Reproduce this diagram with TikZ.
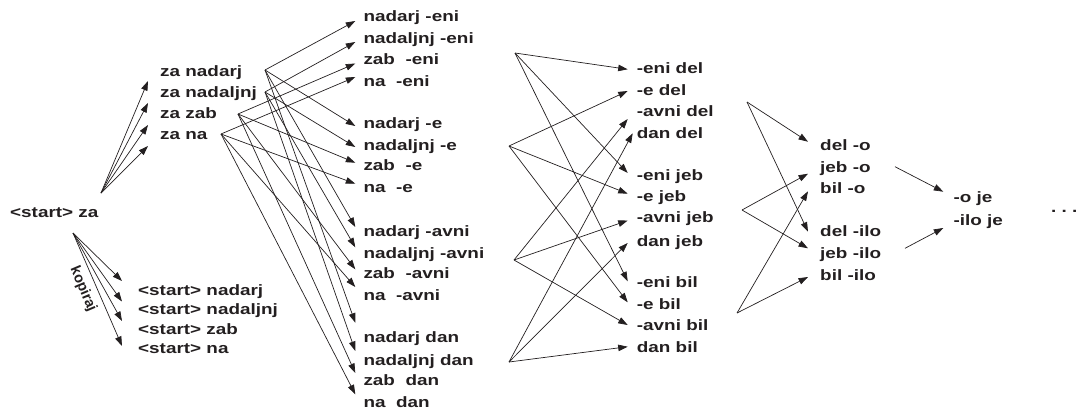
\documentclass[tikz,border=0pt]{standalone}
\usepackage{fontspec}
\usepackage{graphicx}
\setmainfont{Liberation Sans}
\usetikzlibrary{arrows.meta}
\definecolor{ink}{RGB}{35,31,32}
% labels are set wide, as in the printed figure
\newcommand{\wtxt}[1]{\scalebox{1.26}[1]{#1}}

\begin{document}
\begin{tikzpicture}[x=1pt,y=-1pt,
  lbl/.style={anchor=base west, inner sep=0pt, text=ink,
    font=\bfseries\fontsize{15}{17}\selectfont},
  arr/.style={draw=ink, line width=0.7pt,
    -{Triangle[length=9.5pt,width=6.5pt]}},
]
\useasboundingbox (0,0) rectangle (1076,413);

% ---- words -------------------------------------------------------
\node[lbl] (start) at (10,217) {\wtxt{<start> za}};

\node[lbl] (za-nadarj)   at (160,76)  {\wtxt{za nadarj}};
\node[lbl] (za-nadaljnj) at (160,97)  {\wtxt{za nadaljnj}};
\node[lbl] (za-zab)      at (160,118) {\wtxt{za zab}};
\node[lbl] (za-na)       at (160,139) {\wtxt{za na}};

\node[lbl] (s-nadarj)   at (138,295)   {\wtxt{<start> nadarj}};
\node[lbl] (s-nadaljnj) at (138,314.5) {\wtxt{<start> nadaljnj}};
\node[lbl] (s-zab)      at (138,334)   {\wtxt{<start> zab}};
\node[lbl] (s-na)       at (138,353)   {\wtxt{<start> na}};
\node[text=ink, inner sep=0pt, rotate=-67,
      font=\bfseries\fontsize{14.5}{16}\selectfont] (kop) at (83,289) {kopiraj};

% stems with their endings
\node[lbl] (nadarj-eni)   at (363.3,21)    {\wtxt{nadarj -eni}};
\node[lbl] (nadaljnj-eni) at (363.3,43)    {\wtxt{nadaljnj -eni}};
\node[lbl] (zab-eni)      at (363.3,64.5)  {\wtxt{zab~~-eni}};
\node[lbl] (na-eni)       at (363.3,86)    {\wtxt{na~~-eni}};
\node[lbl] (nadarj-e)     at (363.3,128)   {\wtxt{nadarj -e}};
\node[lbl] (nadaljnj-e)   at (363.3,150)   {\wtxt{nadaljnj -e}};
\node[lbl] (zab-e)        at (363.3,170.7) {\wtxt{zab~~-e}};
\node[lbl] (na-e)         at (363.3,192.7) {\wtxt{na~~-e}};
\node[lbl] (nadarj-avni)  at (363.3,236)   {\wtxt{nadarj -avni}};
\node[lbl] (nadaljnj-avni)at (363.3,258.3) {\wtxt{nadaljnj -avni}};
\node[lbl] (zab-avni)     at (363.3,278.3) {\wtxt{zab~~-avni}};
\node[lbl] (na-avni)      at (363.3,300)   {\wtxt{na~~-avni}};
\node[lbl] (nadarj-dan)   at (363.3,342.7) {\wtxt{nadarj dan}};
\node[lbl] (nadaljnj-dan) at (363.3,365)   {\wtxt{nadaljnj dan}};
\node[lbl] (zab-dan)      at (363.3,385)   {\wtxt{zab~~dan}};
\node[lbl] (na-dan)       at (363.3,407.3) {\wtxt{na~~dan}};

% endings with the next stem
\node[lbl] (eni-del)  at (636.7,73.3)  {\wtxt{-eni del}};
\node[lbl] (e-del)    at (636.7,95)    {\wtxt{-e del}};
\node[lbl] (avni-del) at (636.7,116)   {\wtxt{-avni del}};
\node[lbl] (dan-del)  at (636.7,138.3) {\wtxt{dan del}};
\node[lbl] (eni-jeb)  at (636.7,180)   {\wtxt{-eni jeb}};
\node[lbl] (e-jeb)    at (636.7,201.7) {\wtxt{-e jeb}};
\node[lbl] (avni-jeb) at (636.7,222.5) {\wtxt{-avni jeb}};
\node[lbl] (dan-jeb)  at (636.7,246)   {\wtxt{dan jeb}};
\node[lbl] (eni-bil)  at (636.7,287.3) {\wtxt{-eni bil}};
\node[lbl] (e-bil)    at (636.7,309.3) {\wtxt{-e bil}};
\node[lbl] (avni-bil) at (636.7,330)   {\wtxt{-avni bil}};
\node[lbl] (dan-bil)  at (636.7,352.7) {\wtxt{dan bil}};

\node[lbl] (del-o)   at (820,150.7) {\wtxt{del -o}};
\node[lbl] (jeb-o)   at (820,172.7) {\wtxt{jeb -o}};
\node[lbl] (bil-o)   at (820,193.3) {\wtxt{bil -o}};
\node[lbl] (del-ilo) at (820,236.7) {\wtxt{del -ilo}};
\node[lbl] (jeb-ilo) at (820,258.3) {\wtxt{jeb -ilo}};
\node[lbl] (bil-ilo) at (820,280)   {\wtxt{bil -ilo}};

\node[lbl] (o-je)   at (953.3,202.7) {\wtxt{-o je}};
\node[lbl] (ilo-je) at (953.3,225)   {\wtxt{-ilo je}};

\node[lbl] (more) at (1051,212) {\wtxt{.~.~.}};

% ---- fan-out points ----------------------------------------------
\coordinate (h-start) at (101,193);
\coordinate (h-kop)   at (73,233);

\coordinate (h-nadarj)   at (265,70);
\coordinate (h-nadaljnj) at (265,92);
\coordinate (h-zab)      at (238,114);
\coordinate (h-na)       at (221,134);

\coordinate (h-eni)  at (515,53);
\coordinate (h-e)    at (509,146);
\coordinate (h-avni) at (514,260);
\coordinate (h-dan)  at (509,362);

\coordinate (h-del) at (747,102);
\coordinate (h-jeb) at (742,210);
\coordinate (h-bil) at (737,313);

% ---- connectors --------------------------------------------------
\foreach \t/\d in {za-nadarj/5, za-nadaljnj/6, za-zab/7, za-na/7}
  \draw[arr] (h-start) -- ([shift={(-12,\d)}]\t.base west);

\foreach \t/\d in {s-nadarj/-14, s-nadaljnj/-13, s-zab/-13, s-na/-7}
  \draw[arr] (h-kop) -- ([shift={(-16,\d)}]\t.base west);

\foreach \s/\t/\d in {
    nadarj/nadarj-eni/0,     nadarj/nadarj-e/-2,
    nadarj/nadarj-avni/-9,   nadarj/nadarj-dan/-20,
    nadaljnj/nadaljnj-eni/-1, nadaljnj/nadaljnj-e/-3,
    nadaljnj/nadaljnj-avni/-11, nadaljnj/nadaljnj-dan/-14,
    zab/zab-eni/-1,  zab/zab-e/-8,  zab/zab-avni/-9,  zab/zab-dan/-12,
    na/na-eni/-9,    na/na-e/-9,    na/na-avni/-13,   na/na-dan/-13}
  \draw[arr] (h-\s) -- ([shift={(-8,\d)}]\t.base west);

\foreach \s/\t/\dx/\d in {
    eni/eni-del/-9/-4,   eni/eni-jeb/-9/-7,   eni/eni-bil/-9/-6,
    e/e-del/-9/-4,       e/e-jeb/-9/-8,       e/e-bil/-9/-7,
    avni/avni-del/-9/3,  avni/avni-jeb/-9/-2, avni/avni-bil/-9/-5,
    dan/dan-del/-4/-5,   dan/dan-jeb/-9/-3,   dan/dan-bil/-9/-6}
  \draw[arr] (h-\s) -- ([shift={(\dx,\d)}]\t.base west);

\foreach \s/\t/\d in {
    del/del-o/-9, del/del-ilo/-5,
    jeb/jeb-o/1,  jeb/jeb-ilo/-10,
    bil/bil-o/-2, bil/bil-ilo/-3}
  \draw[arr] (h-\s) -- ([shift={(-12,\d)}]\t.base west);

\draw[arr] ([shift={(75,-6)}]jeb-o.base west)
        -- ([shift={(-10,-11)}]o-je.base west);
\draw[arr] ([shift={(85,-10)}]jeb-ilo.base west)
        -- ([shift={(-10,3)}]ilo-je.base west);
\end{tikzpicture}
\end{document}
